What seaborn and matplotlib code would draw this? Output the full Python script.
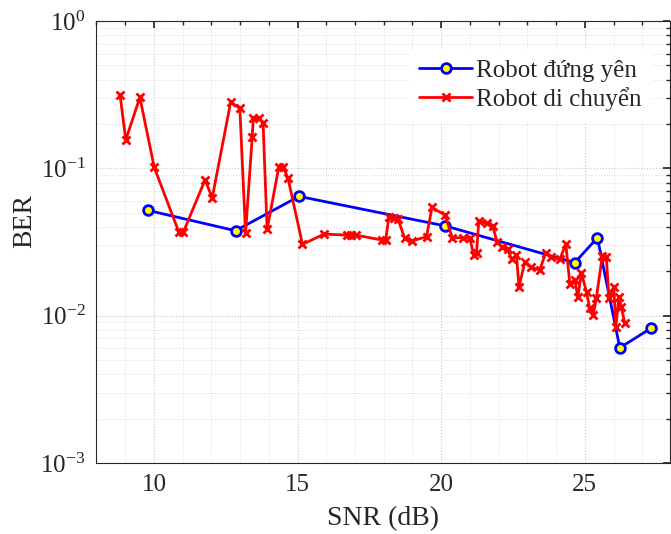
import matplotlib
matplotlib.use("Agg")
import matplotlib.pyplot as plt
import matplotlib.ticker as mticker
import pandas as pd
import seaborn as sns

# Robot standing still (blue)
snr_static = [9.78, 12.84, 15.05, 20.15, 24.65, 25.44, 26.22, 27.30]
ber_static = [0.0519, 0.0377, 0.0645, 0.0406, 0.0229, 0.0338, 0.00605, 0.0082]

# Robot moving (red)
snr_moving = [8.82, 9.02, 9.51, 10.01, 10.87, 11.02, 11.78, 12.03, 12.67, 12.99,
              13.19, 13.42, 13.46, 13.66, 13.80, 13.94, 14.35, 14.50, 14.67, 15.17,
              15.93, 16.71, 16.87, 17.03, 17.94, 18.07, 18.18, 18.36, 18.50, 18.73,
              18.99, 19.49, 19.68, 20.13, 20.39, 20.76, 21.00, 21.13, 21.23, 21.31,
              21.58, 21.79, 21.95, 22.13, 22.31, 22.45, 22.62, 22.71, 22.91, 23.14,
              23.43, 23.64, 23.84, 24.13, 24.34, 24.48, 24.65, 24.76, 24.88, 25.06,
              25.17, 25.29, 25.40, 25.61, 25.75, 25.84, 26.01, 26.08, 26.19, 26.27,
              26.39]
ber_moving = [0.315, 0.156, 0.303, 0.1016, 0.0368, 0.0368, 0.0833, 0.0631, 0.2806, 0.2555,
              0.0362, 0.1623, 0.2185, 0.2185, 0.2020, 0.0385, 0.1025, 0.1025, 0.0853, 0.0305,
              0.0358, 0.0352, 0.0352, 0.0352, 0.0326, 0.0326, 0.0469, 0.0458, 0.0451, 0.0335,
              0.0322, 0.0343, 0.0543, 0.0482, 0.0338, 0.0338, 0.0335, 0.0258, 0.0265, 0.0439,
              0.0423, 0.0408, 0.0315, 0.0294, 0.0283, 0.0242, 0.0258, 0.0157, 0.0230, 0.0213,
              0.0204, 0.0267, 0.0249, 0.0241, 0.0306, 0.0164, 0.0175, 0.0134, 0.0194, 0.0145,
              0.0112, 0.0101, 0.0131, 0.0254, 0.0251, 0.0131, 0.0157, 0.0084, 0.0134, 0.0115,
              0.0089]

label_static = "Robot đứng yên"
label_moving = "Robot di chuyển"

sns.set_theme(style="white")
plt.rcParams["font.family"] = ["Liberation Serif", "DejaVu Serif"]
plt.rcParams["mathtext.fontset"] = "custom"
plt.rcParams["mathtext.rm"] = "Liberation Serif"
plt.rcParams["mathtext.it"] = "Liberation Serif:italic"

df_static = pd.DataFrame({"snr": snr_static, "ber": ber_static})
df_moving = pd.DataFrame({"snr": snr_moving, "ber": ber_moving})

fig = plt.figure(figsize=(6.71, 5.34), dpi=100)
ax = fig.add_axes([0.1438, 0.133, 0.854, 0.8277])

sns.lineplot(data=df_static, x="snr", y="ber", ax=ax, sort=False, estimator=None,
             color="#0000ff", linewidth=2, marker="o", markersize=7,
             markerfacecolor="#ffff00", markeredgecolor="#0000ff",
             markeredgewidth=2, label=label_static)
sns.lineplot(data=df_moving, x="snr", y="ber", ax=ax, sort=False, estimator=None,
             color="#ff0000", linewidth=2, marker="x", markersize=5.5,
             markeredgecolor="#ff0000", markeredgewidth=2, label=label_moving)

ax.set_yscale("log")
ax.set_xlim(8, 27.95)
ax.set_ylim(1e-3, 1)
ax.xaxis.set_major_locator(mticker.MultipleLocator(5))
ax.xaxis.set_minor_locator(mticker.MultipleLocator(1))
ax.yaxis.set_major_locator(mticker.LogLocator(base=10))
ax.yaxis.set_minor_locator(mticker.LogLocator(base=10, subs=range(2, 10)))
ax.yaxis.set_minor_formatter(mticker.NullFormatter())

ax.grid(True, which="major", linestyle=":", color="#c8c8c8", linewidth=0.8)
ax.grid(True, which="minor", linestyle=":", color="#dcdcdc", linewidth=0.7)

ax.tick_params(which="both", direction="in", top=True, right=True,
               labelsize=18, colors="#262626")
ax.tick_params(axis="x", which="major", pad=8)
ax.tick_params(axis="y", which="major", pad=8)
ax.tick_params(which="major", length=5)
ax.tick_params(which="minor", length=3)
for s in ax.spines.values():
    s.set_color("#262626")
    s.set_linewidth(0.8)

ax.set_xlabel("SNR (dB)", fontsize=20)
ax.set_ylabel("BER", fontsize=20)
ax.xaxis.set_label_coords(0.5, -0.126)
ax.yaxis.set_label_coords(-0.125, 0.547)
ax.xaxis.label.set_va("center")
ax.yaxis.label.set_va("center")

leg = ax.legend(loc="upper right", bbox_to_anchor=(0.968, 0.936), fontsize=18,
                frameon=True, fancybox=False, facecolor="white", edgecolor="white",
                framealpha=1, borderpad=0.4, borderaxespad=0,
                handlelength=2.1, handletextpad=0.15, labelspacing=0.2)

fig.savefig("out.png", dpi=100)
